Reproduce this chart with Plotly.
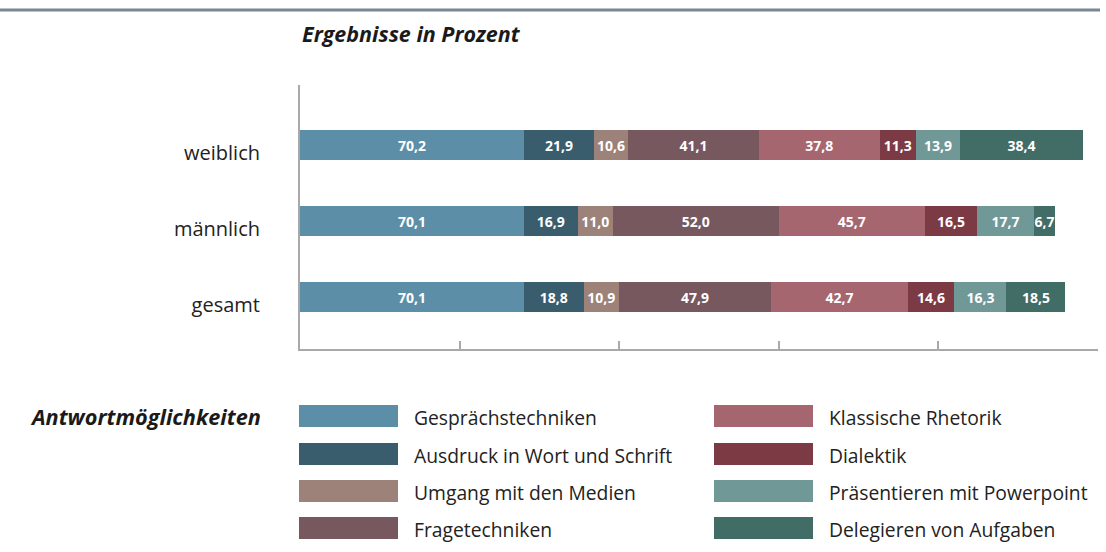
import plotly.graph_objects as go

W, H = 1106, 552

categories = ["gesamt", "männlich", "weiblich"]
series_names = [
    "Gesprächstechniken",
    "Ausdruck in Wort und Schrift",
    "Umgang mit den Medien",
    "Fragetechniken",
    "Klassische Rhetorik",
    "Dialektik",
    "Präsentieren mit Powerpoint",
    "Delegieren von Aufgaben",
]
# values per series, in the order of categories (gesamt, männlich, weiblich)
gespraech = [70.1, 70.1, 70.2]
ausdruck = [18.8, 16.9, 21.9]
medien = [10.9, 11.0, 10.6]
frage = [47.9, 52.0, 41.1]
rhetorik = [42.7, 45.7, 37.8]
dialektik = [14.6, 16.5, 11.3]
praesent = [16.3, 17.7, 13.9]
delegieren = [18.5, 6.7, 38.4]
series_values = [gespraech, ausdruck, medien, frage, rhetorik, dialektik, praesent, delegieren]
colors = ["#5c8fa7", "#3a5d6e", "#9c8279", "#77585f", "#a6666f", "#7c3a45", "#709897", "#426c66"]
x_ticks = [0, 50, 100, 150, 200, 250]

FONT = "Open Sans"

fig = go.Figure()
for name, vals, col in zip(series_names, series_values, colors):
    fig.add_trace(go.Bar(
        y=categories, x=vals, name=name, orientation="h",
        marker=dict(color=col, line=dict(width=0)),
        texttemplate="<b>%{x:.1f}</b>", textposition="inside",
        insidetextanchor="middle", textangle=0,
        textfont=dict(color="white", size=14, family=FONT),
        width=0.39, showlegend=False,
    ))

def px(x):
    return x / W

def py(y):
    return 1 - y / H

shapes = []
annotations = []
# top rule
shapes.append(dict(type="line", xref="paper", yref="paper", x0=0, x1=px(1100), y0=py(10), y1=py(10),
                   line=dict(color="#7b8792", width=3)))
# title
annotations.append(dict(text="<b><i>Ergebnisse in Prozent</i></b>", xref="paper", yref="paper",
                        x=px(300), y=py(33), xanchor="left", yanchor="middle", showarrow=False,
                        font=dict(size=21.5, color="#1a1a1a", family=FONT)))
# legend title
annotations.append(dict(text="<b><i>Antwortmöglichkeiten</i></b>", xref="paper", yref="paper",
                        x=px(263), y=py(416), xanchor="right", yanchor="middle", showarrow=False,
                        font=dict(size=21.7, color="#1a1a1a", family=FONT)))
# custom legend: two columns, four rows
col_x = [299, 714]
row_y = [416, 454, 491, 528]
for i, (name, col) in enumerate(zip(series_names, colors)):
    c, r = divmod(i, 4)
    x0 = col_x[c]
    yc = row_y[r]
    shapes.append(dict(type="rect", xref="paper", yref="paper", x0=px(x0), x1=px(x0 + 99),
                       y0=py(yc - 11), y1=py(yc + 11), fillcolor=col, line=dict(width=0)))
    annotations.append(dict(text=name, xref="paper", yref="paper", x=px(x0 + 113), y=py(yc + 1),
                            xanchor="left", yanchor="middle", showarrow=False,
                            font=dict(size=19.3, color="#222222", family=FONT)))

fig.update_layout(
    barmode="stack",
    width=W, height=H,
    margin=dict(l=0, r=0, t=0, b=0),
    paper_bgcolor="white", plot_bgcolor="white",
    separators=",.",
    uniformtext=dict(minsize=14, mode="show"),
    font=dict(family=FONT, color="#222222"),
    shapes=shapes, annotations=annotations,
    xaxis=dict(domain=[px(300), px(1098)], range=[0, 250], tickvals=x_ticks, showticklabels=False,
               ticks="inside", ticklen=8, tickwidth=2, tickcolor="#a9a9ac",
               showline=True, linecolor="#a9a9ac", linewidth=2, showgrid=False, zeroline=False,
               fixedrange=True),
    yaxis=dict(domain=[py(349), py(85)], range=[-0.684, 2.79], type="category",
               categoryorder="array", categoryarray=categories,
               showline=True, linecolor="#a9a9ac", linewidth=2, ticks="", showgrid=False,
               tickfont=dict(size=20, color="#222222", family=FONT),
               ticklabelstandoff=34, ticklabelshift=8, fixedrange=True),
    showlegend=False,
)

fig.write_html("out.html", config={"displayModeBar": False},
               post_script="document.body.style.margin='0px';")
